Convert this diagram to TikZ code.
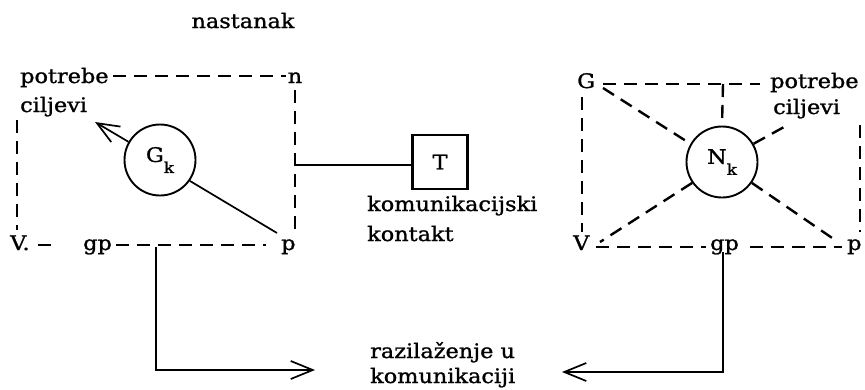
\documentclass[tikz,border=0pt]{standalone}
\usepackage{fontspec}
\setmainfont{DejaVu Serif}[FakeStretch=1.12, FakeBold=1.2]
\usetikzlibrary{arrows.meta}
\begin{document}
\begin{tikzpicture}[x=1pt,y=-1pt,
  lbl/.style={inner sep=0pt, font=\fontsize{20}{24}\selectfont},
  dsh/.style={line width=2.4pt, dash pattern=on 13pt off 8pt},
  sol/.style={line width=1.7pt},
  circ/.style={circle, draw, line width=1.9pt, minimum size=71pt, inner sep=0pt, font=\fontsize{20}{24}\selectfont},
  arr/.style={-{Straight Barb[length=22pt,width=18pt,line width=1.7pt]}}
]
\useasboundingbox (0,0) rectangle (865,389);
% ---------- left part ----------
\node[lbl,anchor=base] (nast) at (243,28) {nastanak};
\node[lbl,anchor=base west] (potL) at (20,83) {potrebe};
\node[lbl,anchor=base west] (cilL) at (20,112) {ciljevi};
\node[lbl,anchor=base] (nL) at (295,83) {n};
\node[lbl,anchor=base west] (VL) at (10,250) {V.};
\node[lbl,anchor=base west] (gpL) at (83,250) {gp};
\node[lbl,anchor=base west] (pL) at (281,250) {p};
\node[circ] (Gk) at (160,160) {G\raisebox{-11pt}{\fontsize{15}{15}\selectfont k}};
\coordinate (tipG) at (95,122);
\draw[sol,arr] (Gk.150) -- (tipG);
\coordinate (pLend) at (277,233);
\draw[sol] (Gk.-35) -- (pLend);
\draw[dsh] (113,76) -- (286,76);
\draw[dsh] (17,120) -- (17,230);
\draw[dsh] (295,90) -- (295,232);
\draw[dsh] (38,245) -- (58,245);
\draw[dsh] (116,245) -- (266,245);
% ---------- middle ----------
\node[draw, line width=2.4pt, minimum width=55pt, minimum height=54pt, inner sep=0pt, lbl] (T) at (440,162) {T};
\coordinate (tj) at (295,165);
\draw[sol] (tj) -- (tj -| T.west);
\node[lbl,anchor=base west] (kom1) at (367,211) {komunikacijski};
\node[lbl,anchor=base west] (kont) at (367,241) {kontakt};
\node[lbl,anchor=base west] (raz) at (370,358) {razilaženje u};
\node[lbl,anchor=base west] (kom2) at (370,383) {komunikaciji};
\coordinate (gpLdown) at (156,247);
\coordinate (tipL) at (315,370);
\draw[sol,arr] (gpLdown) |- (tipL);
\coordinate (gpRdown) at (723,252);
\coordinate (tipR) at (562,372);
\draw[sol,arr] (gpRdown) |- (tipR);
% ---------- right part ----------
\node[lbl,anchor=base west] (GR) at (577,88) {G};
\node[lbl,anchor=base west] (potR) at (770,88) {potrebe};
\node[lbl,anchor=base west] (cilR) at (773,114) {ciljevi};
\node[circ] (Nk) at (722,162) {N\raisebox{-11pt}{\fontsize{15}{15}\selectfont k}};
\node[lbl,anchor=base west] (VR) at (573,250) {V};
\node[lbl,anchor=base west] (gpR) at (710,250) {gp};
\node[lbl,anchor=base west] (pR) at (847,250) {p};
\draw[dsh] (603,84) -- (760,84);
\draw[dsh] (723,84) -- (Nk.north);
\draw[dsh] (582,97) -- (582,232);
\draw[dsh] (860,125) -- (860,232);
\draw[dsh] (596,247) -- (706,247);
\draw[dsh] (750,247) -- (842,247);
\coordinate (dUR) at (784,127);
\coordinate (dLL) at (600,242);
\coordinate (dLR) at (838,242);
\draw[dsh] (603,88) -- (Nk.150);
\draw[dsh] (Nk.30) -- (dUR);
\draw[dsh] (Nk.215) -- (dLL);
\draw[dsh] (Nk.-35) -- (dLR);
\end{tikzpicture}
\end{document}
